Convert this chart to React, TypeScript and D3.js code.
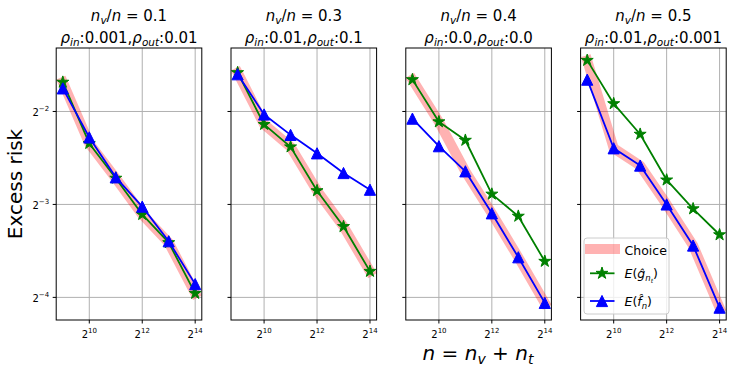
import * as d3 from "d3";

// dataset sizes n (log2 axis) and per-panel settings
const sizes = [512, 1024, 2048, 4096, 8192, 16384];
const ratios = ["0.1", "0.3", "0.4", "0.5"];
const rhoIn = ["0.001", "0.01", "0.0", "0.01"];
const rhoOut = ["0.01", "0.1", "0.0", "0.001"];

// E(g_hat) - green stars
const riskG = [
  [0.311, 0.197, 0.152, 0.116, 0.094, 0.0644],
  [0.334, 0.227, 0.192, 0.1385, 0.106, 0.0759],
  [0.317, 0.2315, 0.2017, 0.135, 0.1145, 0.0818],
  [0.366, 0.265, 0.211, 0.15, 0.121, 0.0997],
];
// E(f_hat) - blue triangles
const riskF = [
  [0.297, 0.206, 0.153, 0.123, 0.095, 0.069],
  [0.33, 0.2445, 0.21, 0.183, 0.158, 0.1395],
  [0.237, 0.193, 0.16, 0.117, 0.0843, 0.06],
  [0.317, 0.19, 0.167, 0.125, 0.092, 0.0579],
];
// Choice - pink band
const riskChoice = [
  [0.311, 0.197, 0.152, 0.116, 0.094, 0.0644],
  [0.334, 0.227, 0.192, 0.1385, 0.106, 0.0759],
  [0.317, 0.2315, 0.16, 0.117, 0.0843, 0.06],
  [0.366, 0.19, 0.167, 0.125, 0.092, 0.0579],
];

const xTicks = [1024, 4096, 16384];
const yTicks = [0.25, 0.125, 0.0625];

const W = 734;
const H = 371;
const left0 = 56.2;
const step = 174.8;
const pw = 145.6;
const top = 48;
const bottom = 320;
const font = "DejaVu Sans, sans-serif";

// matplotlib-like 5% margins in log space
const logPad = (vals: number[]) => {
  const lo = Math.log2(d3.min(vals) as number);
  const hi = Math.log2(d3.max(vals) as number);
  const pad = (hi - lo) * 0.05;
  return [2 ** (lo - pad), 2 ** (hi + pad)];
};

const allY = [...riskG.flat(), ...riskF.flat(), ...riskChoice.flat()];
const y = d3.scaleLog().base(2).domain(logPad(allY)).range([bottom, top]);

const starPath = (r: number) => {
  const pts: string[] = [];
  for (let i = 0; i < 10; i++) {
    const rad = i % 2 === 0 ? r : r * 0.381966;
    const a = -Math.PI / 2 + (i * Math.PI) / 5;
    pts.push(`${(rad * Math.cos(a)).toFixed(2)},${(rad * Math.sin(a)).toFixed(2)}`);
  }
  return "M" + pts.join("L") + "Z";
};
const triPath = (h: number) => `M0,${-h}L${h},${h}L${-h},${h}Z`;
const STAR = starPath(6.3);
const TRI = triPath(5.6);

const Panel = ({ i }: { i: number }) => {
  const x0 = left0 + i * step;
  const x = d3.scaleLog().base(2).domain(logPad(sizes)).range([x0, x0 + pw]);
  const line = d3
    .line<number>()
    .x((d, k) => x(sizes[k]))
    .y((d) => y(d));
  const cx = x0 + pw / 2;
  return (
    <g>
      <defs>
        <clipPath id={`clip${i}`}>
          <rect x={x0} y={top} width={pw} height={bottom - top} />
        </clipPath>
      </defs>
      {/* grid */}
      {xTicks.map((t) => (
        <line key={"gx" + t} x1={x(t)} x2={x(t)} y1={top} y2={bottom} stroke="#b0b0b0" strokeWidth={1} />
      ))}
      {yTicks.map((t) => (
        <line key={"gy" + t} x1={x0} x2={x0 + pw} y1={y(t)} y2={y(t)} stroke="#b0b0b0" strokeWidth={1} />
      ))}
      <g clipPath={`url(#clip${i})`}>
        <path
          d={line(riskChoice[i]) as string}
          fill="none"
          stroke="red"
          strokeOpacity={0.3}
          strokeWidth={10}
          strokeLinecap="square"
          strokeLinejoin="round"
        />
        <path d={line(riskG[i]) as string} fill="none" stroke="green" strokeWidth={1.8} strokeLinejoin="round" />
        {riskG[i].map((v, k) => (
          <path key={"g" + k} d={STAR} transform={`translate(${x(sizes[k])},${y(v)})`} fill="green" stroke="green" strokeWidth={1} />
        ))}
        <path d={line(riskF[i]) as string} fill="none" stroke="blue" strokeWidth={1.8} strokeLinejoin="round" />
        {riskF[i].map((v, k) => (
          <path key={"f" + k} d={TRI} transform={`translate(${x(sizes[k])},${y(v)})`} fill="blue" stroke="blue" strokeWidth={1} />
        ))}
      </g>
      {/* frame */}
      <rect x={x0} y={top} width={pw} height={bottom - top} fill="none" stroke="#000" strokeWidth={1} />
      {/* x ticks */}
      {xTicks.map((t) => (
        <g key={"xt" + t} transform={`translate(${x(t)},${bottom})`}>
          <line y1={0} y2={3.5} stroke="#000" />
          <text y={18} textAnchor="middle" fontFamily={font} fontSize={10} fill="#000">
            2<tspan fontSize={7} dy={-5}>{Math.log2(t)}</tspan>
          </text>
        </g>
      ))}
      {/* y ticks */}
      {yTicks.map((t) => (
        <g key={"yt" + t} transform={`translate(${x0},${y(t)})`}>
          <line x1={0} x2={-3.5} stroke="#000" />
          {i === 0 && (
            <text x={-7} y={5} textAnchor="end" fontFamily={font} fontSize={10} fill="#000">
              2<tspan fontSize={7} dy={-5}>{"\u2212" + -Math.log2(t)}</tspan>
            </text>
          )}
        </g>
      ))}
      {/* title */}
      <text x={cx} y={21} textAnchor="middle" fontFamily={font} fontSize={15} fill="#000">
        <tspan fontStyle="italic">n</tspan>
        <tspan fontStyle="italic" fontSize={10.5} dy={3}>v</tspan>
        <tspan dy={-3}>/</tspan>
        <tspan fontStyle="italic">n</tspan>
        <tspan>{" = " + ratios[i]}</tspan>
      </text>
      <text x={cx} y={43} textAnchor="middle" fontFamily={font} fontSize={15} fill="#000">
        <tspan fontStyle="italic">ρ</tspan>
        <tspan fontStyle="italic" fontSize={10.5} dy={3}>in</tspan>
        <tspan dy={-3}>{":" + rhoIn[i] + ","}</tspan>
        <tspan fontStyle="italic">ρ</tspan>
        <tspan fontStyle="italic" fontSize={10.5} dy={3}>out</tspan>
        <tspan dy={-3}>{":" + rhoOut[i]}</tspan>
      </text>
    </g>
  );
};

const Legend = () => {
  const lx = 584;
  const ly = 238;
  const tx = 624.5;
  return (
    <g>
      <rect x={lx} y={ly} width={85} height={76} rx={3} fill="#fff" fillOpacity={0.8} stroke="#cccccc" strokeWidth={1} />
      <line x1={lx + 1} x2={lx + 36} y1={249} y2={249} stroke="red" strokeOpacity={0.3} strokeWidth={10} />
      <text x={tx} y={255} fontFamily={font} fontSize={12.5} fill="#000">Choice</text>
      <line x1={590} x2={614.5} y1={273.3} y2={273.3} stroke="green" strokeWidth={1.8} />
      <path d={STAR} transform="translate(602,273.3)" fill="green" stroke="green" />
      <text x={tx} y={278} fontFamily={font} fontSize={12.5} fill="#000">
        <tspan fontStyle="italic">E</tspan>
        <tspan>(</tspan>
        <tspan fontStyle="italic">ĝ</tspan>
        <tspan fontStyle="italic" fontSize={8.5} dy={3}>n</tspan>
        <tspan fontStyle="italic" fontSize={6} dy={1.5}>t</tspan>
        <tspan dy={-4.5}>)</tspan>
      </text>
      <line x1={590} x2={614.5} y1={301} y2={301} stroke="blue" strokeWidth={1.8} />
      <path d={TRI} transform="translate(602,301)" fill="blue" stroke="blue" />
      <text x={tx} y={305.7} fontFamily={font} fontSize={12.5} fill="#000">
        <tspan fontStyle="italic">E</tspan>
        <tspan>(</tspan>
        <tspan fontStyle="italic">{"f\u0302"}</tspan>
        <tspan fontStyle="italic" fontSize={8.5} dy={3}>n</tspan>
        <tspan dy={-3}>)</tspan>
      </text>
    </g>
  );
};

export default function App() {
  return (
    <svg
      width={W}
      height={H}
      viewBox={`0 0 ${W} ${H}`}
      style={{ position: "absolute", left: 0, top: 0, background: "#fff" }}
    >
      <rect width={W} height={H} fill="#fff" />
      {ratios.map((r, i) => (
        <Panel key={r + i} i={i} />
      ))}
      <Legend />
      <text
        transform={`translate(22,${(top + bottom) / 2}) rotate(-90)`}
        textAnchor="middle"
        fontFamily={font}
        fontSize={20}
        fill="#000"
      >
        Excess risk
      </text>
      <text x={478} y={360} textAnchor="middle" fontFamily={font} fontSize={20} fill="#000">
        <tspan fontStyle="italic">n</tspan>
        <tspan>{" = "}</tspan>
        <tspan fontStyle="italic">n</tspan>
        <tspan fontStyle="italic" fontSize={14} dy={4}>v</tspan>
        <tspan dy={-4}>{" + "}</tspan>
        <tspan fontStyle="italic">n</tspan>
        <tspan fontStyle="italic" fontSize={14} dy={4}>t</tspan>
      </text>
    </svg>
  );
}
